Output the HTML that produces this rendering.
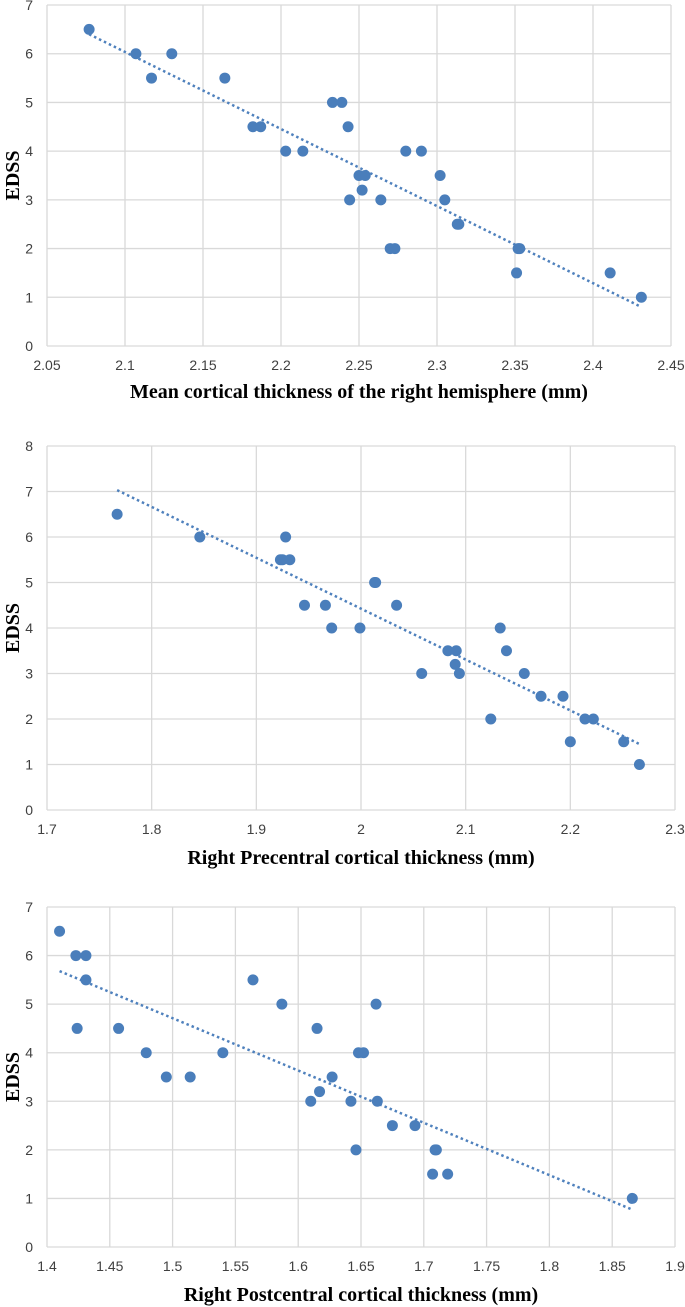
<!DOCTYPE html>
<html><head><meta charset="utf-8"><style>
body{margin:0;background:#fff;}
svg{display:block;}
.tick{font-family:"Liberation Sans Narrow","Liberation Sans",sans-serif;font-size:14px;fill:#404040;}
.title{font-family:"Liberation Serif",serif;font-weight:bold;font-size:20px;fill:#000;}
</style></head><body>
<svg id="svg" width="685" height="1307" xmlns="http://www.w3.org/2000/svg"></svg>
<script>
// Chart 1 data
const c1X=[2.077,2.107,2.117,2.130,2.164,2.182,2.187,2.203,2.214,2.233,2.239,2.243,2.244,2.250,2.254,2.252,2.264,2.270,2.273,2.280,2.290,2.302,2.305,2.313,2.314,2.351,2.352,2.353,2.411,2.431];
const c1Y=[6.5,6,5.5,6,5.5,4.5,4.5,4,4,5,5,4.5,3,3.5,3.5,3.2,3,2,2,4,4,3.5,3,2.5,2.5,1.5,2,2,1.5,1];
const c1Trend=[[2.077,6.4],[2.431,0.8]];
const c1XTicks=["2.05","2.1","2.15","2.2","2.25","2.3","2.35","2.4","2.45"];
const c1YTicks=["0","1","2","3","4","5","6","7"];
// Chart 2 data
const c2X=[1.767,1.846,1.928,1.923,1.925,1.932,1.946,1.966,1.972,1.999,2.013,2.014,2.034,2.058,2.083,2.091,2.090,2.094,2.124,2.133,2.139,2.156,2.172,2.193,2.200,2.214,2.222,2.251,2.266];
const c2Y=[6.5,6,6,5.5,5.5,5.5,4.5,4.5,4,4,5,5,4.5,3,3.5,3.5,3.2,3,2,4,3.5,3,2.5,2.5,1.5,2,2,1.5,1];
const c2Trend=[[1.767,7.03],[2.266,1.45]];
const c2XTicks=["1.7","1.8","1.9","2","2.1","2.2","2.3"];
const c2YTicks=["0","1","2","3","4","5","6","7","8"];
// Chart 3 data
const c3X=[1.410,1.423,1.431,1.431,1.424,1.457,1.479,1.495,1.514,1.540,1.564,1.587,1.615,1.662,1.648,1.652,1.627,1.617,1.610,1.642,1.663,1.675,1.693,1.646,1.709,1.710,1.707,1.719,1.866];
const c3Y=[6.5,6,6,5.5,4.5,4.5,4,3.5,3.5,4,5.5,5,4.5,5,4,4,3.5,3.2,3,3,3,2.5,2.5,2,2,2,1.5,1.5,1];
const c3Trend=[[1.410,5.68],[1.865,0.78]];
const c3XTicks=["1.4","1.45","1.5","1.55","1.6","1.65","1.7","1.75","1.8","1.85","1.9"];
const c3YTicks=["0","1","2","3","4","5","6","7"];

const NS="http://www.w3.org/2000/svg";
const svg=document.getElementById('svg');
function mk(tag,attrs,parent){const e=document.createElementNS(NS,tag);for(const k in attrs)e.setAttribute(k,attrs[k]);parent.appendChild(e);return e;}

function chart(id,xs,ys,trend,xt,yt,L,R,T,B,xTitle,xTitleY){
  const g=mk('g',{},svg);
  
  
  const x0=+xt[0],x1=+xt[xt.length-1],y0=+yt[0],y1=+yt[yt.length-1];
  const sx=v=>L+(v-x0)/(x1-x0)*(R-L);
  const sy=v=>B-(v-y0)/(y1-y0)*(B-T);
  xt.forEach(t=>{
    const l=mk('line',{x1:sx(+t),x2:sx(+t),y1:T,y2:B,stroke:'#d9d9d9','stroke-width':1.3},g);
    
    
    const tx=mk('text',{x:sx(+t),y:B+24,'text-anchor':'middle',class:'tick'},g);tx.textContent=t;
    
    
  });
  yt.forEach(t=>{
    const l=mk('line',{x1:L,x2:R,y1:sy(+t),y2:sy(+t),stroke:'#d9d9d9','stroke-width':1.3},g);
    
    
    const tx=mk('text',{x:L-14,y:sy(+t)+5,'text-anchor':'end',class:'tick'},g);tx.textContent=t;
    
    
  });
  const tl=mk('line',{x1:sx(trend[0][0]),y1:sy(trend[0][1]),x2:sx(trend[1][0]),y2:sy(trend[1][1]),stroke:'#4f81bd','stroke-width':2.5,'stroke-dasharray':'2.5 3'},g);
  
  
  xs.forEach((v,i)=>{
    const c=mk('circle',{cx:sx(v),cy:sy(ys[i]),r:5.5,fill:'#4a7ebb'},g);
    
    
  });
  const yl=mk('text',{x:0,y:0,'text-anchor':'middle',class:'title',transform:`translate(19,${(T+B)/2}) rotate(-90)`},g);yl.textContent='EDSS';
  
  
  const xl=mk('text',{x:(L+R)/2,y:xTitleY,'text-anchor':'middle',class:'title'},g);xl.textContent=xTitle;
  
  
}
chart('chart-mean-cortical-thickness',c1X,c1Y,c1Trend,c1XTicks,c1YTicks,47,671,5,346,'Mean  cortical thickness of the right hemisphere (mm)',398);
chart('chart-precentral-thickness',c2X,c2Y,c2Trend,c2XTicks,c2YTicks,47,675,446,810,'Right Precentral cortical thickness (mm)',864);
chart('chart-postcentral-thickness',c3X,c3Y,c3Trend,c3XTicks,c3YTicks,47,675,907,1247,'Right Postcentral cortical thickness (mm)',1301);
</script>
</body></html>
